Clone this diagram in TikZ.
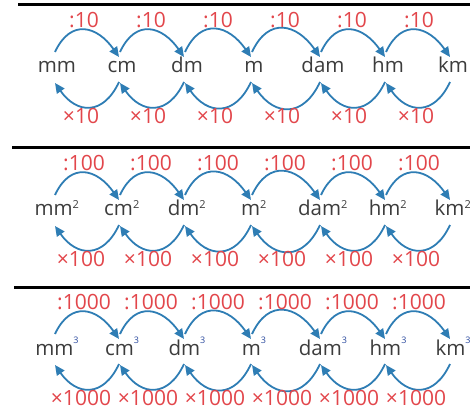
\documentclass[tikz,border=0pt]{standalone}
\usepackage{fontspec}
\setmainfont{Open Sans}
\usetikzlibrary{arrows.meta}
\definecolor{unitGray}{HTML}{3C3C3C}
\definecolor{opRed}{HTML}{E2464B}
\definecolor{arcBlue}{HTML}{2E7DB4}
\definecolor{supBlue}{HTML}{2B4A9E}
\newcommand{\cubesup}{\raisebox{12pt}{\fontsize{9}{9}\selectfont\color{supBlue}3}}

\begin{document}
\begin{tikzpicture}[x=1pt, y=1pt,
  unit/.style={font=\fontsize{20.5}{20}\selectfont, text=unitGray, inner sep=0pt, text height=14pt, text depth=0pt},
  op/.style={font=\fontsize{21}{21}\selectfont, text=opRed, inner sep=0pt},
  loop/.style={draw=arcBlue, line width=1.8pt, -{Triangle[length=10pt, width=9pt]}, looseness=1.5},
  rule/.style={line width=3pt},
]
\useasboundingbox (0,0) rectangle (470,-411);
\foreach \r/\L/\xs/\sq/\f in {1/5/18/{}/10, 2/148/12/{\textsuperscript{\fontsize{11}{11}\selectfont 2}}/100, 3/287/14/{\cubesup}/1000} {
  \draw[rule] (\xs,-\L) -- (470,-\L);
  % units
  \foreach \u/\x [count=\i] in {mm/57, cm/122, dm/187, m/254, dam/323, hm/388, km/453}
    \node[unit] (u\r-\i) at (\x,-\L-61) {\u\sq};
  % arcs and factors
  \foreach \i [evaluate=\i as \j using int(\i+1), evaluate=\i as \xt using 17+67*\i, evaluate=\i as \xb using 14+67*\i] in {1,...,6} {
    \draw[loop] ([shift={(-2,14)}]u\r-\i.center) to[out=65,in=125] ([shift={(-3,9)}]u\r-\j.center);
    \draw[loop] ([shift={(-3,-16)}]u\r-\j.center) to[out=-115,in=-55] ([shift={(-2,-17)}]u\r-\i.center);
    \node[op] (d\r-\i) at (\xt,-\L-15) {:\f};
    \node[op] (t\r-\i) at (\xb,-\L-111) {×\f};
  }
}
\end{tikzpicture}
\end{document}
